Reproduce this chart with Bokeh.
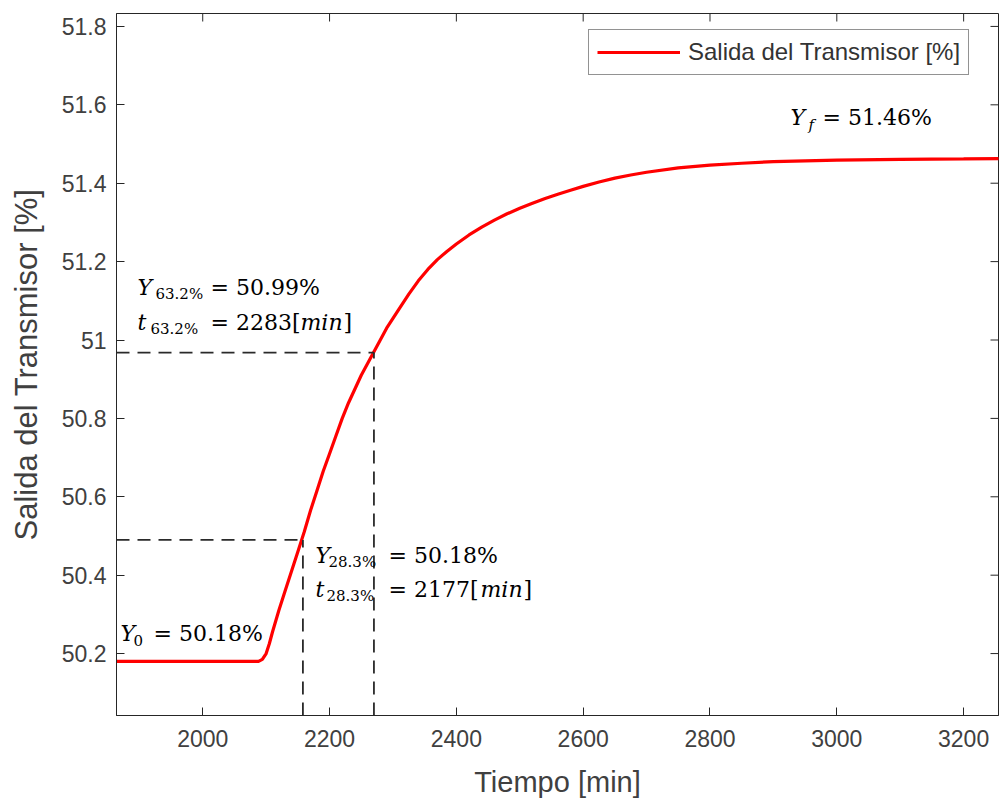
import math
from bokeh.plotting import figure
from bokeh.models import Range1d, FixedTicker, Legend, LegendItem, Label
from bokeh.embed import file_html
from bokeh.resources import INLINE

# ---- data ----
TIME = [1864, 1950, 2000, 2050, 2088, 2094, 2100, 2105, 2110, 2120, 2130, 2140,
        2150, 2160, 2170, 2180, 2190, 2200, 2210, 2220, 2230, 2240, 2250, 2260,
        2270, 2280, 2290, 2300, 2310, 2325, 2340, 2355, 2370, 2385, 2400, 2420,
        2440, 2460, 2480, 2500, 2520, 2540, 2560, 2580, 2600, 2625, 2650, 2675,
        2700, 2750, 2800, 2850, 2900, 2950, 3000, 3100, 3200, 3260]
OUTPUT = [50.18, 50.18, 50.18, 50.18, 50.18, 50.185, 50.20, 50.225, 50.255,
          50.31, 50.36, 50.41, 50.46, 50.51, 50.565, 50.615, 50.665, 50.71,
          50.755, 50.80, 50.84, 50.875, 50.91, 50.94, 50.97, 51.00, 51.03,
          51.055, 51.08, 51.117, 51.151, 51.18, 51.205, 51.226, 51.245, 51.268,
          51.288, 51.306, 51.322, 51.336, 51.349, 51.361, 51.372, 51.382,
          51.392, 51.403, 51.413, 51.421, 51.428, 51.439, 51.446, 51.451,
          51.455, 51.457, 51.459, 51.461, 51.462, 51.463]
MARK_T = [2158, 2270]          # dashed guide times (28.3 % and 63.2 %)
MARK_Y = [50.49, 50.968]       # dashed guide levels
X_TICKS = [2000, 2200, 2400, 2600, 2800, 3000, 3200]
Y_TICKS = [50.2, 50.4, 50.6, 50.8, 51.0, 51.2, 51.4, 51.6, 51.8]
Y_TICK_LABELS = ["50.2", "50.4", "50.6", "50.8", "51", "51.2", "51.4", "51.6", "51.8"]
X_LIMITS = (1864, 3255)
Y_LIMITS = (50.042, 51.833)
SERIES_NAME = "Salida del Transmisor [%]"

AX_COL = "#262626"
TXT_COL = "#404040"
SANS = "Liberation Sans"
SERIF = "DejaVu Serif"

p = figure(width=999, height=805, output_backend="svg", toolbar_location=None,
           x_range=Range1d(*X_LIMITS), y_range=Range1d(*Y_LIMITS),
           min_border_left=116, min_border_right=1, min_border_top=13,
           min_border_bottom=90)
p.xgrid.visible = False
p.ygrid.visible = False
p.outline_line_color = AX_COL
p.outline_line_width = 1
p.background_fill_color = "white"
p.border_fill_color = "white"

def style_axis(ax, ticks):
    ax.ticker = FixedTicker(ticks=ticks)
    ax.major_tick_in = 8
    ax.major_tick_out = 0
    ax.minor_tick_line_color = None
    ax.axis_line_color = AX_COL
    ax.major_tick_line_color = AX_COL
    ax.major_label_text_font = SANS
    ax.major_label_text_color = TXT_COL
    ax.major_label_text_font_size = "23px"

xb = p.below[0]
yl = p.left[0]
style_axis(xb, X_TICKS)
style_axis(yl, Y_TICKS)
yl.major_label_overrides = dict(zip(Y_TICKS, Y_TICK_LABELS))
xb.major_label_standoff = 14
yl.major_label_standoff = 10

xb.axis_label = "Tiempo [min]"
yl.axis_label = "Salida del Transmisor [%]"
for ax in (xb, yl):
    ax.axis_label_text_font = SANS
    ax.axis_label_text_font_style = "normal"
    ax.axis_label_text_color = TXT_COL
xb.axis_label_text_font_size = "29px"
yl.axis_label_text_font_size = "31px"
xb.axis_label_standoff = 16
yl.axis_label_standoff = 15

# inward ticks on the top and right edges of the box
p.ray(x=X_TICKS, y=[Y_LIMITS[1]] * len(X_TICKS), length=8, length_units="screen",
      angle=-math.pi / 2, line_color=AX_COL, line_width=1)
p.ray(x=[X_LIMITS[1]] * len(Y_TICKS), y=Y_TICKS, length=8, length_units="screen",
      angle=math.pi, line_color=AX_COL, line_width=1)

# ---- curve ----
r = p.line(TIME, OUTPUT, line_color="#ff0000", line_width=3.2)

# ---- dashed guides ----
p.segment(x0=[X_LIMITS[0]] * len(MARK_T), y0=MARK_Y, x1=MARK_T, y1=MARK_Y,
          line_color="#2a2a2a", line_width=1.8, line_dash="13 8")
p.segment(x0=MARK_T, y0=[Y_LIMITS[0]] * len(MARK_T), x1=MARK_T, y1=MARK_Y,
          line_color="#2a2a2a", line_width=1.8, line_dash="13 8")

# ---- legend ----
legend = Legend(items=[LegendItem(label=SERIES_NAME, renderers=[r])],
                location=(472, 640), orientation="vertical",
                glyph_width=83, glyph_height=22, label_height=22,
                label_standoff=8, padding=8, margin=0, spacing=0,
                border_line_color=AX_COL, border_line_width=1,
                background_fill_color="white", background_fill_alpha=1,
                label_text_font=SANS, label_text_font_size="24px",
                label_text_color="#333333")
p.add_layout(legend)

# ---- math-style annotations (screen position relative to frame) ----
FL, FB = 116, 715
def lab(text, px, py, size=22, italic=False):
    p.add_layout(Label(x=px - FL, y=FB - py, x_units="screen", y_units="screen",
                       text=text, text_font=SERIF,
                       text_font_size=f"{size}px",
                       text_font_style="italic" if italic else "normal",
                       text_color="black", text_baseline="alphabetic",
                       text_align="left"))

# Y_f
lab("Y", 790, 117, italic=True)
lab("f", 808, 124, size=15, italic=True)
lab("= 51.46%", 822, 117)
# Y_63.2%
lab("Y", 137, 287, italic=True)
lab("63.2%", 155, 293, size=15)
lab("= 50.99%", 210, 287)
lab("t", 137, 322, italic=True)
lab("63.2%", 150, 328, size=15)
lab("= 2283[", 210, 322)
lab("min", 300, 322, italic=True)
lab("]", 343, 322)
# Y_28.3%
lab("Y", 315, 555, italic=True)
lab("28.3%", 328, 561, size=15)
lab("= 50.18%", 388, 555)
lab("t", 315, 589, italic=True)
lab("28.3%", 326, 595, size=15)
lab("= 2177[", 388, 589)
lab("min", 480, 589, italic=True)
lab("]", 523, 589)
# Y_0
lab("Y", 120, 633, italic=True)
lab("0", 133, 640, size=15)
lab("= 50.18%", 153, 633)

open("out.html", "w").write(file_html(p, INLINE))
